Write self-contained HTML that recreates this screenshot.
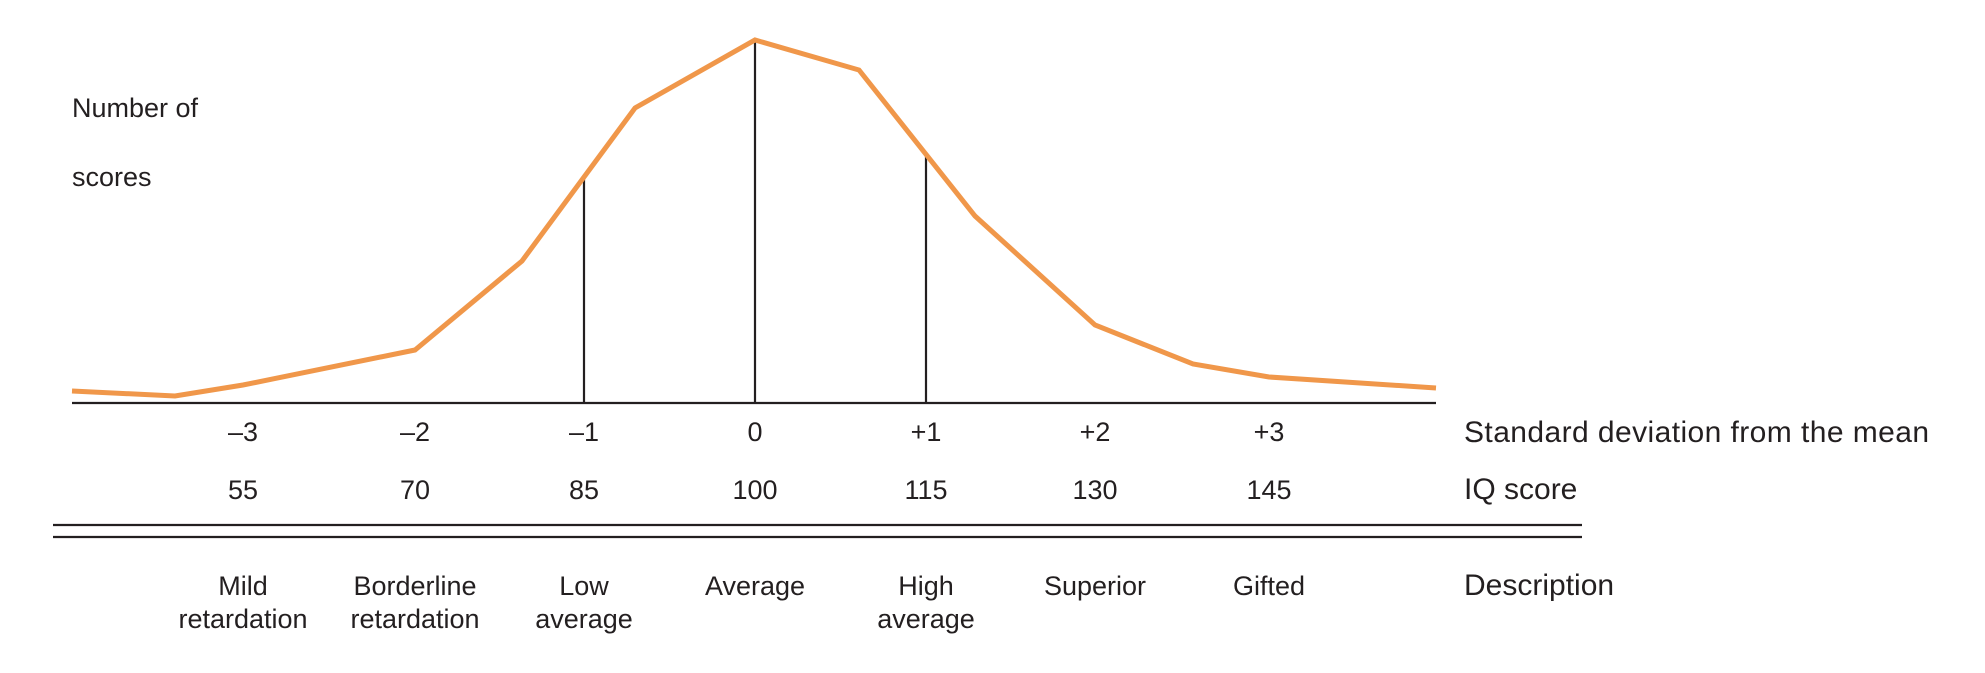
<!DOCTYPE html>
<html><head><meta charset="utf-8"><style>
html,body{margin:0;padding:0;background:#fff;}
svg text{font-family:"Liberation Sans",sans-serif;font-size:27px;fill:#231f20;}
svg text.r{font-size:30px;}
</style></head><body>
<svg width="1985" height="668" viewBox="0 0 1985 668" xmlns="http://www.w3.org/2000/svg">
<g stroke="#231f20" stroke-width="2.2" fill="none">
<line x1="72" y1="403" x2="1436" y2="403"/>
<line x1="584" y1="177" x2="584" y2="403"/>
<line x1="755" y1="40" x2="755" y2="403"/>
<line x1="926" y1="152" x2="926" y2="403"/>
<line x1="53" y1="525" x2="1582" y2="525"/>
<line x1="53" y1="537" x2="1582" y2="537"/>
</g>
<polyline fill="none" stroke="#f0974a" stroke-width="5" stroke-linejoin="miter" points="72,391 175,396 243,385 415,350 522,261 635,108 755,40 859,70 975,216 1095,325 1193,364 1269,377 1436,388"/>
<text x="72" y="117">Number of</text>
<text x="72" y="186">scores</text>
<g text-anchor="middle" style="font-size:28px">
<text x="243" y="441">–3</text><text x="415" y="441">–2</text><text x="584" y="441">–1</text><text x="755" y="441">0</text><text x="926" y="441">+1</text><text x="1095" y="441">+2</text><text x="1269" y="441">+3</text>
<text x="243" y="499">55</text><text x="415" y="499">70</text><text x="584" y="499">85</text><text x="755" y="499">100</text><text x="926" y="499">115</text><text x="1095" y="499">130</text><text x="1269" y="499">145</text>
</g>
<g text-anchor="middle">
<text x="243" y="595">Mild</text><text x="243" y="628">retardation</text>
<text x="415" y="595">Borderline</text><text x="415" y="628">retardation</text>
<text x="584" y="595">Low</text><text x="584" y="628">average</text>
<text x="755" y="595">Average</text>
<text x="926" y="595">High</text><text x="926" y="628">average</text>
<text x="1095" y="595">Superior</text>
<text x="1269" y="595">Gifted</text>
</g>
<text class="r" x="1464" y="442" textLength="465">Standard deviation from the mean</text>
<text class="r" x="1464" y="499">IQ score</text>
<text class="r" x="1464" y="595">Description</text>
</svg>
</body></html>
